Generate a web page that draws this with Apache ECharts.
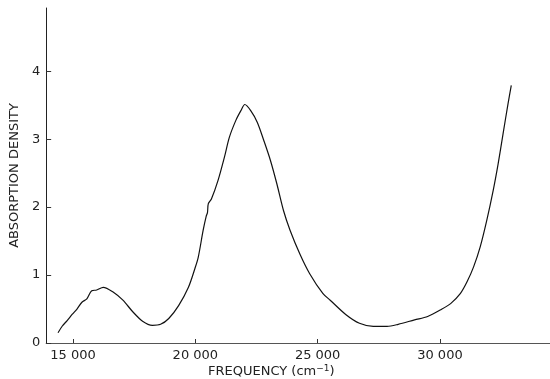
<!DOCTYPE html>
<html>
<head>
<meta charset="utf-8">
<script src="https://cdn.jsdelivr.net/npm/echarts@6/dist/echarts.min.js"></script>
<style>
html,body{margin:0;padding:0;background:#fff;}
#chart{width:550px;height:379px;}
</style>
</head>
<body>
<div id="chart"></div>
<script>
// Frequency (cm^-1) and absorption density
const frequency = [14385, 14560, 14759, 14960, 15160, 15362, 15563, 15764, 15965, 16234, 16636, 17038, 17440, 17842, 18244, 18578, 18913, 19315, 19717, 19985, 20117, 20319, 20440, 20495, 20530, 20656, 20924, 21191, 21392, 21660, 21862, 22022, 22263, 22530, 22799, 23067, 23334, 23603, 23871, 24273, 24675, 25211, 25513, 26147, 26710, 27273, 27836, 28294, 28961, 29498, 30035, 30437, 30839, 31108, 31376, 31643, 31912, 32180, 32381, 32582, 32783, 32917];
const density   = [0.15, 0.25, 0.33, 0.42, 0.50, 0.60, 0.65, 0.77, 0.78, 0.82, 0.75, 0.63, 0.46, 0.32, 0.26, 0.275, 0.36, 0.55, 0.82, 1.10, 1.26, 1.66, 1.86, 1.92, 2.05, 2.12, 2.39, 2.74, 3.03, 3.28, 3.42, 3.51, 3.42, 3.25, 2.98, 2.69, 2.34, 1.95, 1.66, 1.31, 1.02, 0.73, 0.63, 0.42, 0.29, 0.245, 0.245, 0.275, 0.34, 0.39, 0.49, 0.58, 0.73, 0.90, 1.12, 1.41, 1.80, 2.25, 2.64, 3.08, 3.52, 3.79];
const xTicks = [15000, 20000, 25000, 30000];
const yTicks = [0, 1, 2, 3, 4];

const chart = echarts.init(document.getElementById('chart'), null, {renderer: 'canvas'});
const font = '"DejaVu Sans", sans-serif';
const fmt = v => { const s = String(v); return s.slice(0, s.length - 3) + ' ' + s.slice(-3); };

chart.setOption({
  animation: false,
  backgroundColor: '#ffffff',
  grid: {left: 39, right: 0, top: 8, bottom: 36, containLabel: false},
  xAxis: {
    type: 'value', min: 13900, max: 34500,
    axisLine: {show: true, lineStyle: {color: '#555', width: 1}},
    axisTick: {show: true, inside: true, length: 4, customValues: xTicks, lineStyle: {color: '#333'}},
    axisLabel: {customValues: xTicks, formatter: fmt, color: '#222', fontFamily: font, fontSize: 13, margin: 6},
    splitLine: {show: false}
  },
  yAxis: {
    type: 'value', min: 0, max: 4.93,
    name: 'ABSORPTION DENSITY', nameLocation: 'middle', nameGap: 24,
    nameTextStyle: {color: '#222', fontFamily: font, fontSize: 13},
    axisLine: {show: true, lineStyle: {color: '#222', width: 1}},
    axisTick: {show: true, inside: true, length: 5, customValues: yTicks, lineStyle: {color: '#333'}},
    axisLabel: {customValues: yTicks, color: '#222', fontFamily: font, fontSize: 13, margin: 6},
    splitLine: {show: false}
  },
  graphic: [{
    type: 'text', left: 208, top: 364,
    style: {
      text: 'FREQUENCY (cm{sup|−1})',
      fill: '#222', font: '13px "DejaVu Sans", sans-serif',
      rich: {sup: {fontSize: 9, verticalAlign: 'top', padding: [0, 0, 6, 0], fill: '#222', fontFamily: font}}
    }
  }],
  series: [{
    type: 'line', smooth: 0.3, symbol: 'none',
    data: frequency.map((f, i) => [f, density[i]]),
    lineStyle: {color: '#111', width: 1.2}
  }]
});
</script>
</body>
</html>
